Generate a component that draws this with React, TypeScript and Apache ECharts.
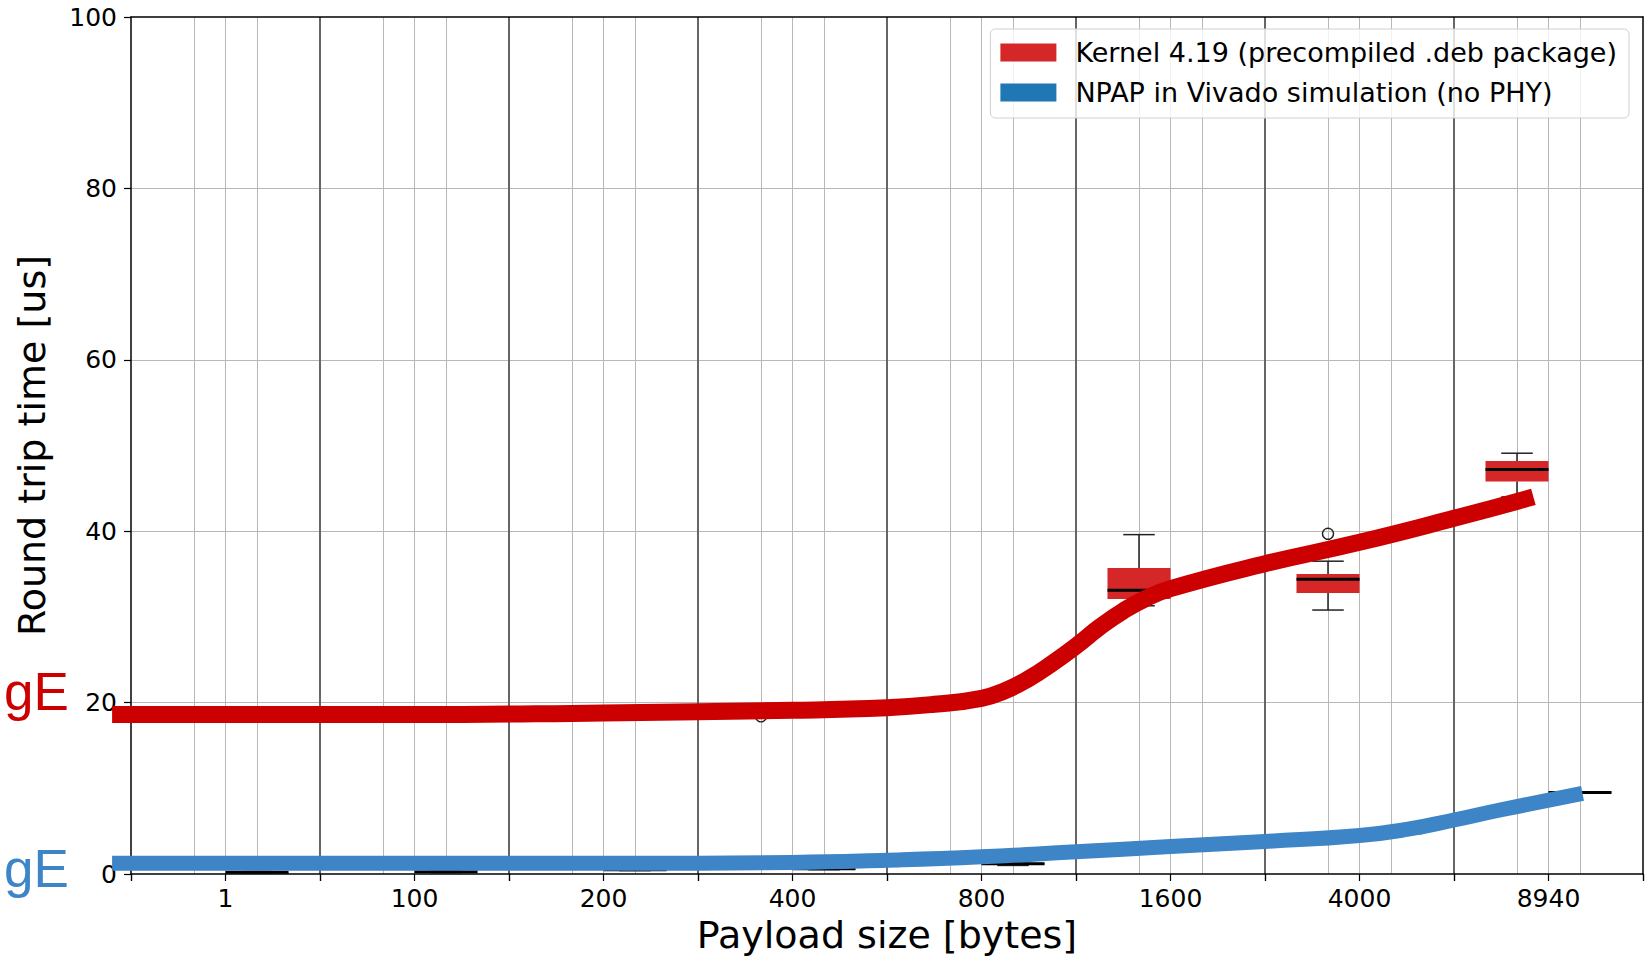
import React, { useEffect, useRef } from 'react';
import * as echarts from 'echarts';

const CATEGORIES = ['1', '100', '200', '400', '800', '1600', '4000', '8940'];
const Y_MIN = 0;
const Y_MAX = 100;
const Y_INTERVAL = 20;

const KERNEL_NAME = 'Kernel 4.19 (precompiled .deb package)';
const NPAP_NAME = 'NPAP in Vivado simulation (no PHY)';

// [min, q1, median, q3, max] per category
const KERNEL_BOX = [
  [18.2, 18.4, 18.6, 18.8, 19.0],
  [18.2, 18.4, 18.6, 18.8, 19.0],
  [18.3, 18.5, 18.7, 18.9, 19.1],
  [18.7, 18.9, 19.1, 19.3, 19.5],
  [19.3, 19.5, 19.7, 19.9, 20.1],
  [31.3, 32.1, 33.1, 35.7, 39.6],
  [30.8, 32.8, 34.4, 35.0, 36.5],
  [44.0, 45.8, 47.2, 48.2, 49.1],
];
const NPAP_BOX = [
  [0.1, 0.15, 0.2, 0.25, 0.3],
  [0.15, 0.2, 0.27, 0.3, 0.35],
  [0.4, 0.45, 0.5, 0.55, 0.6],
  [0.5, 0.55, 0.6, 0.65, 0.7],
  [1.0, 1.1, 1.2, 1.3, 1.4],
  [2.8, 2.9, 3.0, 3.1, 3.2],
  [4.6, 4.7, 4.8, 4.9, 5.0],
  [9.5, 9.5, 9.5, 9.6, 9.6],
];
// outliers: [category, value]
const KERNEL_OUTLIERS: [string, number][] = [
  ['400', 18.4],
  ['4000', 39.7],
];
const NPAP_OUTLIERS: [string, number][] = [];

// trend curves: [position in category units, value]
const KERNEL_TREND = [
  [-0.6, 18.6], [0, 18.6], [1, 18.6], [2, 18.8], [3, 19.1], [3.5, 19.4],
  [3.75, 19.8], [4, 20.5], [4.125, 21.4], [4.25, 22.8], [4.375, 24.6],
  [4.5, 26.6], [4.625, 28.8], [4.75, 30.7], [4.875, 32.2], [5, 33.3],
  [5.5, 36.2], [6, 38.7], [6.5, 41.5], [6.92, 44.0],
];
const NPAP_TREND = [
  [-0.6, 1.25], [0, 1.25], [1, 1.25], [2, 1.25], [3, 1.35], [3.5, 1.6],
  [4, 2.0], [4.5, 2.6], [5, 3.2], [5.5, 3.8], [6, 4.5], [6.25, 5.2],
  [6.5, 6.3], [6.75, 7.5], [7.18, 9.4],
];

const RED_BOX = '#d62728';
const BLUE_BOX = '#1f77b4';
const RED_LINE = '#cc0000';
const BLUE_LINE = '#3d85c6';
const FONT = 'DejaVu Sans';

// layout
const PLOT_LEFT = 131;
const PLOT_RIGHT = 3;
const PLOT_TOP = 17;
const PLOT_BOTTOM = 88;
const TREND_X_MIN = -0.7; // trend overlay extends left of the plot frame

const makeBoxRenderer = (side: number, fill: string) => (params: any, api: any) => {
  const cat = api.value(0);
  const band = api.size([1, 0])[0];
  const center = api.coord([cat, 0])[0] + (side * band) / 6;
  const w = band / 3;
  const y = (v: number) => api.coord([cat, v])[1];
  const yMin = y(api.value(1));
  const yQ1 = y(api.value(2));
  const yMed = y(api.value(3));
  const yQ3 = y(api.value(4));
  const yMax = y(api.value(5));
  const stroke = { stroke: '#222', lineWidth: 1.5, fill: null };
  return {
    type: 'group',
    children: [
      { type: 'line', shape: { x1: center, y1: yQ1, x2: center, y2: yMin }, style: stroke },
      { type: 'line', shape: { x1: center, y1: yQ3, x2: center, y2: yMax }, style: stroke },
      { type: 'line', shape: { x1: center - w / 4, y1: yMin, x2: center + w / 4, y2: yMin }, style: stroke },
      { type: 'line', shape: { x1: center - w / 4, y1: yMax, x2: center + w / 4, y2: yMax }, style: stroke },
      { type: 'rect', shape: { x: center - w / 2, y: yQ3, width: w, height: Math.max(yQ1 - yQ3, 1) }, style: { fill } },
      { type: 'line', shape: { x1: center - w / 2, y1: yMed, x2: center + w / 2, y2: yMed }, style: { stroke: '#000', lineWidth: 3 } },
    ],
  };
};

const makeOutlierRenderer = (side: number) => (params: any, api: any) => {
  const cat = api.value(0);
  const band = api.size([1, 0])[0];
  const p = api.coord([cat, api.value(1)]);
  return {
    type: 'circle',
    shape: { cx: p[0] + (side * band) / 6, cy: p[1], r: 5.5 },
    style: { fill: 'none', stroke: '#222', lineWidth: 1.4 },
  };
};

export default function App() {
  const ref = useRef<HTMLDivElement>(null);
  useEffect(() => {
    if (!ref.current) return;
    const chart = echarts.init(ref.current, null, { renderer: 'svg' });
    const thirds = CATEGORIES.flatMap((c) => [c + '-a', c + '-b', c + '-c']);
    const boxData = (arr: number[][]) => arr.map((b, i) => [i, ...b]);
    const outData = (arr: [string, number][]) => arr.map(([c, v]) => [CATEGORIES.indexOf(c), v]);
    const frameLine = { show: true, onZero: false, lineStyle: { color: '#000', width: 1.5 } };
    // second grid for the trend overlay: same unit width, extended to the left
    const unit = (1646 - PLOT_LEFT - PLOT_RIGHT) / CATEGORIES.length;
    const trendLeft = PLOT_LEFT - (-0.5 - TREND_X_MIN) * unit;

    chart.setOption({
      animation: false,
      grid: [
        { left: PLOT_LEFT, right: PLOT_RIGHT, top: PLOT_TOP, bottom: PLOT_BOTTOM, containLabel: false },
        { left: trendLeft, right: PLOT_RIGHT, top: PLOT_TOP, bottom: PLOT_BOTTOM, containLabel: false },
      ],
      legend: {
        orient: 'vertical',
        top: 29,
        right: 17,
        icon: 'rect',
        itemWidth: 56,
        itemHeight: 18,
        itemGap: 13,
        padding: [10, 12, 12, 10],
        backgroundColor: 'rgba(255,255,255,0.8)',
        borderColor: '#d0d0d0',
        borderWidth: 1,
        borderRadius: 5,
        textStyle: { fontSize: 27, fontFamily: FONT, color: '#000', padding: [0, 0, 0, 14] },
        data: [
          { name: KERNEL_NAME, itemStyle: { color: RED_BOX } },
          { name: NPAP_NAME, itemStyle: { color: BLUE_BOX } },
        ],
      },
      xAxis: [
        {
          type: 'category',
          gridIndex: 0,
          data: CATEGORIES,
          position: 'bottom',
          boundaryGap: true,
          z: 1,
          name: 'Payload size [bytes]',
          nameLocation: 'middle',
          nameGap: 42,
          nameTextStyle: { fontSize: 38, fontFamily: FONT, color: '#000' },
          axisLine: frameLine,
          axisTick: { show: true, alignWithLabel: false, interval: 0, length: 7, lineStyle: { color: '#000', width: 1.2 } },
          axisLabel: { fontSize: 25, fontFamily: FONT, color: '#000', margin: 12, interval: 0 },
          splitLine: { show: true, interval: 0, showMinLine: false, showMaxLine: false, lineStyle: { color: '#666', width: 2 } },
        },
        {
          type: 'value',
          gridIndex: 0,
          min: -0.5,
          max: 7.5,
          interval: 0.5,
          position: 'bottom',
          axisLine: { show: false, onZero: false },
          axisLabel: { show: false },
          axisTick: { show: true, length: 7, lineStyle: { color: '#000', width: 1.2 } },
          splitLine: { show: true, showMinLine: false, showMaxLine: false, lineStyle: { color: '#b8b8b8', width: 1 } },
        },
        {
          type: 'category',
          gridIndex: 0,
          data: thirds,
          position: 'bottom',
          boundaryGap: true,
          axisLine: { show: false, onZero: false },
          axisTick: { show: false },
          axisLabel: { show: false },
          splitLine: { show: true, interval: 0, showMinLine: false, showMaxLine: false, lineStyle: { color: '#b8b8b8', width: 1 } },
        },
        {
          type: 'value',
          gridIndex: 0,
          min: 0,
          max: 1,
          position: 'top',
          z: 1,
          axisLine: frameLine,
          axisTick: { show: false },
          axisLabel: { show: false },
          splitLine: { show: false },
        },
        {
          type: 'value',
          gridIndex: 1,
          min: TREND_X_MIN,
          max: 7.5,
          show: false,
        },
      ],
      yAxis: [
        {
          type: 'value',
          gridIndex: 0,
          min: Y_MIN,
          max: Y_MAX,
          interval: Y_INTERVAL,
          position: 'left',
          z: 1,
          name: 'Round trip time [us]',
          nameLocation: 'middle',
          nameGap: 80,
          nameTextStyle: { fontSize: 38, fontFamily: FONT, color: '#000' },
          axisLine: frameLine,
          axisTick: { show: true, length: 7, lineStyle: { color: '#000', width: 1.2 } },
          axisLabel: { fontSize: 25, fontFamily: FONT, color: '#000', margin: 14 },
          splitLine: { show: true, showMinLine: false, showMaxLine: false, lineStyle: { color: '#b8b8b8', width: 1 } },
        },
        {
          type: 'value',
          gridIndex: 0,
          min: 0,
          max: 1,
          position: 'right',
          z: 1,
          axisLine: frameLine,
          axisTick: { show: false },
          axisLabel: { show: false },
          splitLine: { show: false },
        },
        {
          type: 'value',
          gridIndex: 1,
          min: Y_MIN,
          max: Y_MAX,
          show: false,
        },
      ],
      series: [
        {
          type: 'custom',
          name: KERNEL_NAME,
          xAxisIndex: 0,
          yAxisIndex: 0,
          itemStyle: { color: RED_BOX },
          encode: { x: 0, y: [1, 2, 3, 4, 5] },
          renderItem: makeBoxRenderer(-1, RED_BOX),
          data: boxData(KERNEL_BOX),
          z: 2,
        },
        {
          type: 'custom',
          name: NPAP_NAME,
          xAxisIndex: 0,
          yAxisIndex: 0,
          itemStyle: { color: BLUE_BOX },
          encode: { x: 0, y: [1, 2, 3, 4, 5] },
          renderItem: makeBoxRenderer(1, BLUE_BOX),
          data: boxData(NPAP_BOX),
          z: 2,
        },
        {
          type: 'custom',
          name: 'kernel-outliers',
          xAxisIndex: 0,
          yAxisIndex: 0,
          encode: { x: 0, y: 1 },
          renderItem: makeOutlierRenderer(-1),
          data: outData(KERNEL_OUTLIERS),
          z: 2,
        },
        {
          type: 'custom',
          name: 'npap-outliers',
          xAxisIndex: 0,
          yAxisIndex: 0,
          encode: { x: 0, y: 1 },
          renderItem: makeOutlierRenderer(1),
          data: outData(NPAP_OUTLIERS),
          z: 2,
        },
        {
          type: 'line',
          name: 'kernel-trend',
          xAxisIndex: 4,
          yAxisIndex: 2,
          data: KERNEL_TREND,
          smooth: 0.5,
          symbol: 'none',
          clip: false,
          lineStyle: { color: RED_LINE, width: 17, cap: 'butt', join: 'round' },
          z: 3,
        },
        {
          type: 'line',
          name: 'npap-trend',
          xAxisIndex: 4,
          yAxisIndex: 2,
          data: NPAP_TREND,
          smooth: 0.5,
          symbol: 'none',
          clip: false,
          lineStyle: { color: BLUE_LINE, width: 15, cap: 'butt', join: 'round' },
          z: 3,
        },
      ],
      graphic: [
        {
          type: 'text',
          x: 4,
          y: 691,
          z: 10,
          style: { text: 'gE', fill: RED_LINE, fontSize: 53, fontFamily: 'Liberation Sans', verticalAlign: 'middle' },
        },
        {
          type: 'text',
          x: 4,
          y: 868,
          z: 10,
          style: { text: 'gE', fill: BLUE_LINE, fontSize: 53, fontFamily: 'Liberation Sans', verticalAlign: 'middle' },
        },
      ],
    });
    return () => chart.dispose();
  }, []);
  return (
    <div
      ref={ref}
      style={{ position: 'absolute', left: 0, top: 0, width: 1646, height: 962, background: '#fff' }}
    />
  );
}
